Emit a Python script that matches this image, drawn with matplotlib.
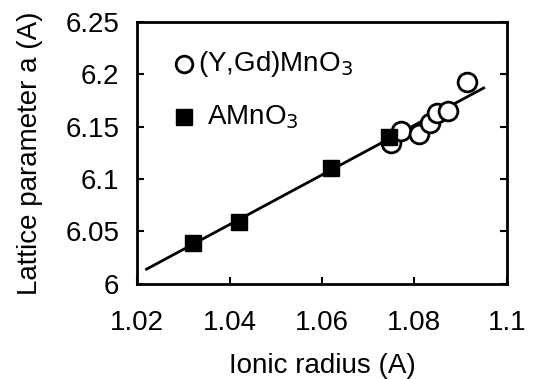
import matplotlib
matplotlib.use("Agg")
import matplotlib.pyplot as plt
import numpy as np

plt.rcParams['font.family'] = ['Liberation Sans', 'DejaVu Sans']

# AMnO3 (filled squares)
amno3_r = [1.032, 1.042, 1.062, 1.0746]
amno3_a = [6.039, 6.059, 6.111, 6.140]

# (Y,Gd)MnO3 (open circles)
ygd_r = [1.075, 1.077, 1.081, 1.0833, 1.0848, 1.0873, 1.0913]
ygd_a = [6.134, 6.146, 6.143, 6.154, 6.163, 6.165, 6.193]

# fit line end points
fit_r = [1.022, 1.095]
fit_a = [6.014, 6.187]

xticks = [1.02, 1.04, 1.06, 1.08, 1.1]
yticks = [6, 6.05, 6.1, 6.15, 6.2, 6.25]


def main():
    fig = plt.figure(figsize=(5.34, 3.79), dpi=100)
    ax = fig.add_axes([0.257, 0.251, 0.692, 0.691])

    ax.plot(fit_r, fit_a, color='black', lw=2)
    ax.plot(ygd_r, ygd_a, 'o', mfc='white', mec='black', mew=2, ms=13.5)
    ax.plot(amno3_r, amno3_a, 's', color='black', ms=11)

    # legend drawn by hand like the original
    ax.plot([1.0302], [6.21], 'o', mfc='white', mec='black', mew=2, ms=12)
    ax.text(1.0331, 6.21, '(Y,Gd)MnO$_3$', fontsize=20, va='center')
    ax.plot([1.0302], [6.159], 's', color='black', ms=11)
    ax.text(1.0350, 6.159, 'AMnO$_3$', fontsize=20, va='center')

    ax.set_xlim(1.02, 1.1)
    ax.set_ylim(6, 6.25)
    ax.set_xticks(xticks)
    ax.set_xticklabels(['1.02', '1.04', '1.06', '1.08', '1.1'])
    ax.set_yticks(yticks)
    ax.set_yticklabels(['6', '6.05', '6.1', '6.15', '6.2', '6.25'])
    ax.tick_params(direction='in', length=5, width=1.5, labelsize=20,
                   right=True)
    ax.tick_params(axis='x', pad=19)
    ax.tick_params(axis='y', pad=13)
    for s in ax.spines.values():
        s.set_linewidth(2)

    ax.set_xlabel('Ionic radius (A)', fontsize=20, labelpad=12)
    ax.set_ylabel('Lattice parameter a (A)', fontsize=20, labelpad=16)

    fig.savefig('out.png', dpi=100)


if __name__ == "__main__":
    main()
